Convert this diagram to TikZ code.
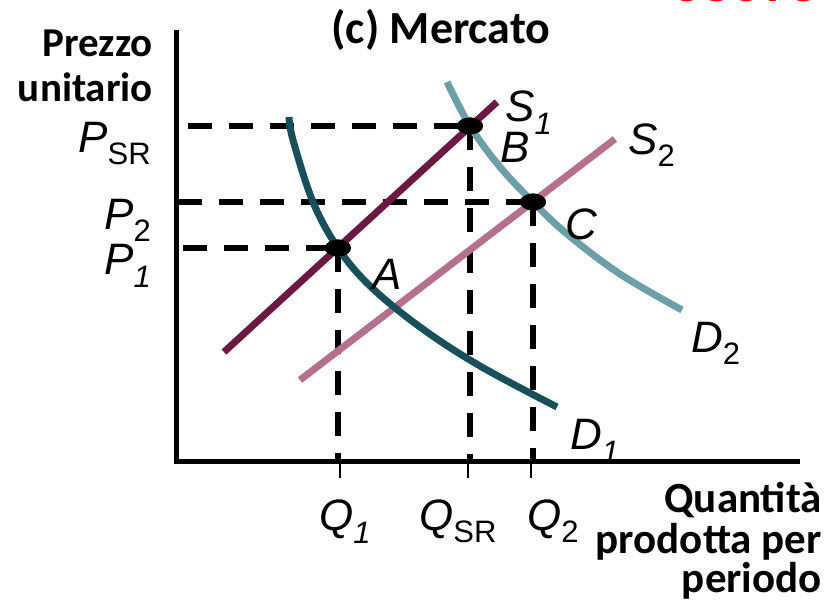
\documentclass[tikz,border=0pt]{standalone}
\usepackage{fontspec}
\setmainfont{Carlito}
\newfontfamily\arialfont{Liberation Sans}
\usetikzlibrary{shapes.geometric}

\definecolor{sonecol}{HTML}{6B1942}
\definecolor{stwocol}{HTML}{B5708F}
\definecolor{donecol}{HTML}{174F5B}
\definecolor{dtwocol}{HTML}{6D9FA8}

\newcommand{\bigit}[1]{{\arialfont\fontsize{44}{44}\selectfont\itshape #1}}
\newcommand{\subit}[1]{\raisebox{-13pt}{\arialfont\fontsize{31}{31}\selectfont\itshape #1}}
\newcommand{\subup}[1]{\raisebox{-12pt}{\arialfont\fontsize{31}{31}\selectfont #1}}

\tikzset{
    axisline/.style={line width=5pt},
    guideline/.style={line width=5.5pt, dash pattern=on 24pt off 17pt},
    curveline/.style={line width=7pt},
    eqdot/.style={ellipse, fill=black, inner sep=0pt, minimum width=26pt, minimum height=17pt},
    boldlab/.style={inner sep=0pt, font=\bfseries\fontsize{41}{45}\selectfont},
    itlab/.style={inner sep=0pt, anchor=base west}
}

\begin{document}
\begin{tikzpicture}[x=1pt, y=-1pt]
    \useasboundingbox (0,0) rectangle (825,601);

    % cut off header
    \node [inner sep=0pt, anchor=base west, text=red, font=\bfseries\fontsize{54}{54}\selectfont] (hdr) at (670,2) {COSTO};

    \coordinate (o) at (176,462);
    \coordinate (ytop) at (176,30);
    \coordinate (xend) at (800,462);

    \draw [axisline] (ytop) -- (176,464.5);
    \draw [axisline] (173.5,462) -- (xend);

    % equilibrium points
    \node [eqdot] (A) at (338,248) {};
    \node [eqdot] (B) at (470,126) {};
    \node [eqdot] (C) at (533,202) {};

    % axis feet
    \coordinate (psr) at (188,126);
    \coordinate (p2) at (178,202);
    \coordinate (p1) at (183,248);
    \coordinate (q1) at (340,462);
    \coordinate (qsr) at (468,462);
    \coordinate (q2) at (531,462);

    \draw [line width=2.5pt] (q1) -- ++(0,16);
    \draw [line width=2.5pt] (qsr) -- ++(0,16);
    \draw [line width=2.5pt] (q2) -- ++(0,16);

    \draw [guideline] (psr) -- (B.center);
    \draw [guideline] (p2) -- (C.center);
    \draw [guideline] (p1) -- (A.center);
    \draw [guideline] (B.center) -- (B.center |- qsr);
    \draw [guideline] (C.center) -- (C.center |- q2);
    \draw [guideline] (A.center) -- (A.center |- q1);

    % supply
    \coordinate (s1a) at (224,352);
    \coordinate (s1b) at (497,102);
    \coordinate (s2a) at (300,380);
    \coordinate (s2b) at (615,139);
    \draw [curveline, sonecol] (s1a) -- (s1b);
    \draw [curveline, stwocol] (s2a) -- (s2b);

    % demand
    \draw [curveline, donecol] plot [smooth, tension=0.6] coordinates
        {(289,117) (293,140) (313,202) (338,248) (370,286) (420,327) (480,366) (557,407)};
    \draw [curveline, dtwocol] plot [smooth, tension=0.6] coordinates
        {(447,82) (470,126) (500,167) (533,202) (567,234) (620,274) (682,310)};

    % redraw dots on top
    \node [eqdot] at (A) {};
    \node [eqdot] at (B) {};
    \node [eqdot] at (C) {};

    % labels
    \node [boldlab, anchor=base, font=\bfseries\fontsize{46}{46}\selectfont] (title) at (441,44) {(c) Mercato};
    \node [boldlab, anchor=base east] (ylab1) at (153,57) {Prezzo};
    \node [boldlab, anchor=base east] (ylab2) at (153,102) {unitario};
    \node [boldlab, anchor=base east, font=\bfseries\fontsize{43}{45}\selectfont] (xlab1) at (822,512) {Quantità};
    \node [boldlab, anchor=base east, font=\bfseries\fontsize{43}{45}\selectfont] (xlab2) at (822,553) {prodotta per};
    \node [boldlab, anchor=base east, font=\bfseries\fontsize{43}{45}\selectfont] (xlab3) at (822,592) {periodo};

    \node [inner sep=0pt, anchor=base east] (lpsr) at (151,153) {\bigit{P}\subup{SR}};
    \node [inner sep=0pt, anchor=base east] (lp2) at (151,230) {\bigit{P}\subup{2}};
    \node [inner sep=0pt, anchor=base east] (lp1) at (151,275) {\bigit{P}\subit{1}};

    \node [itlab] (ls1) at (505,122) {\bigit{S}\subit{1}};
    \node [itlab] (lb) at (500,163) {\bigit{B}};
    \node [itlab] (ls2) at (628,155) {\bigit{S}\subup{2}};
    \node [itlab] (lc) at (565,240) {\bigit{C}};
    \node [itlab] (la) at (372,290) {\bigit{A}};
    \node [itlab] (ld2) at (691,353) {\bigit{D}\subup{2}};
    \node [itlab] (ld1) at (570,450) {\bigit{D}\subit{1}};

    \node [itlab] (lq1) at (319,530) {\bigit{Q}\subit{1}};
    \node [itlab] (lqsr) at (419,530) {\bigit{Q}\subup{SR}};
    \node [itlab] (lq2) at (527,530) {\bigit{Q}\subup{2}};
\end{tikzpicture}
\end{document}
